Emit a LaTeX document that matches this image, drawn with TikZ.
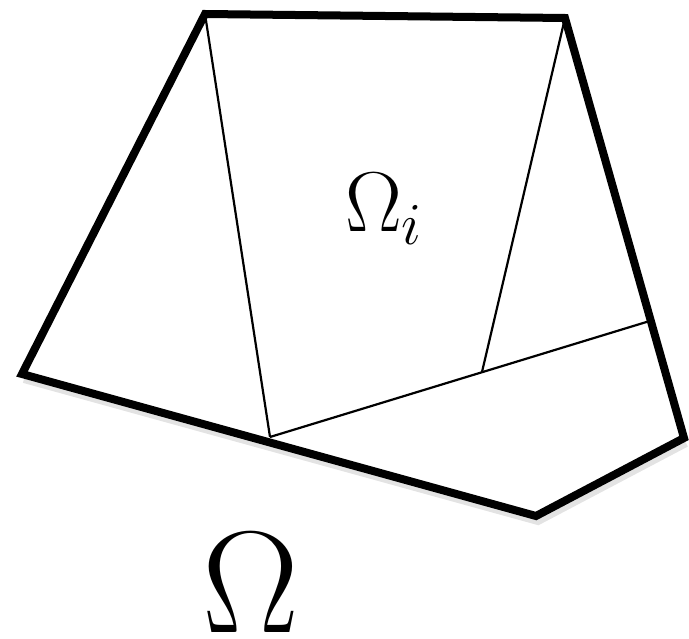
\documentclass[tikz,border=0pt]{standalone}
\usepackage{fix-cm}
\begin{document}
\begin{tikzpicture}[x=1pt,y=-1pt,
  outer/.style={line width=8pt,line join=miter,black},
  shadow/.style={line width=8pt,line join=miter,black!18},
  inner/.style={line width=2.2pt,black},
  lbl/.style={anchor=base west,inner sep=0pt,outer sep=0pt}]
\useasboundingbox (0,0) rectangle (689,639);
\coordinate (A) at (205,14);
\coordinate (B) at (565,18);
\coordinate (C) at (684,438);
\coordinate (D) at (536,516);
\coordinate (E) at (22,374);
\coordinate (P) at (270,437);
\coordinate (Q) at (653,320);
\coordinate (R) at (482,372);
\draw[shadow,opacity=0.6] ([shift={(2,5)}]C) -- ([shift={(2,5)}]D) -- ([shift={(2,5)}]E);
\draw[inner] (A) -- (P);
\draw[inner] (P) -- (Q);
\draw[inner] (B) -- (R);
\draw[outer] (A) -- (B) -- (C) -- (D) -- (E) -- cycle;
\node[lbl] (omi) at (345,232) {\fontsize{85}{100}\selectfont$\Omega_i$};
\node[lbl] (om) at (202,632) {\fontsize{145}{170}\selectfont$\Omega$};
\end{tikzpicture}
\end{document}
